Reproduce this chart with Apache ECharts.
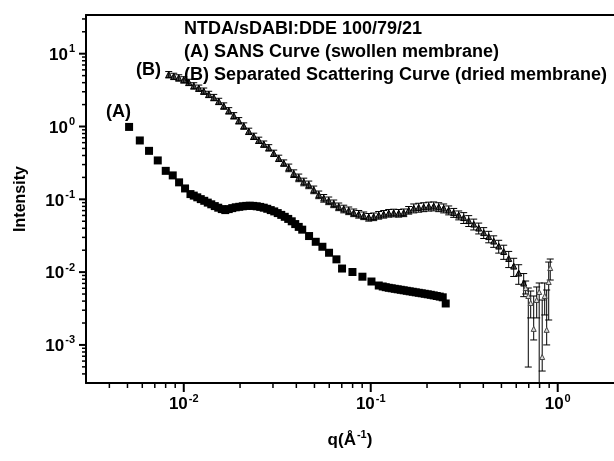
<!DOCTYPE html>
<html><head><meta charset="utf-8">
<script src="https://cdn.jsdelivr.net/npm/echarts@6/dist/echarts.min.js"></script>
<style>html,body{margin:0;padding:0;background:#fff}#c{width:614px;height:461px}</style>
</head><body><div id="c"></div>
<script>
// Series (A): SANS curve (swollen membrane) — filled squares
const aQ = [0.0051,0.00582,0.00652,0.00726,0.00801,0.00873,0.00944,0.01016,0.01086,
  0.01131,0.01181,0.01233,0.01287,0.01344,0.01403,0.01465,0.01529,0.01597,0.01667,0.01740,0.01817,0.01897,0.01981,0.02068,0.02159,0.02254,0.02353,0.02457,0.02565,0.02678,0.02796,0.02919,0.03047,0.03181,0.03322,0.03468,0.03620,0.03780,0.03946,0.04120,0.04301,
  0.04679,0.05080,0.05514,0.05984,0.06555,
  0.07023,0.07983,0.09027,0.1009,0.1104,
  0.1159,0.1203,0.1248,0.1295,0.1344,0.1394,0.1447,0.1501,0.1558,0.1616,0.1677,0.1741,0.1806,0.1874,0.1944,0.2018,0.2094,0.2172,0.2254,0.2339,0.2427,0.2518];
const aI = [0.987,0.643,0.463,0.342,0.246,0.213,0.171,0.141,0.118,
  0.1124,0.1065,0.1006,0.0954,0.0901,0.0854,0.0807,0.0767,0.0734,0.0711,0.0734,0.0757,0.0777,0.0789,0.0802,0.0812,0.0817,0.0812,0.0802,0.0787,0.0767,0.0741,0.0711,0.0682,0.0647,0.0611,0.0575,0.0538,0.0499,0.0457,0.0418,0.0383,
  0.0313,0.0261,0.0223,0.01845,0.01498,
  0.0112,0.01003,0.00865,0.00743,0.00655,
  0.00635,0.00621,0.00609,0.00600,0.00590,0.00581,0.00572,0.00563,0.00554,0.00545,0.00537,0.00528,0.00520,0.00512,0.00504,0.00496,0.00488,0.00479,0.00470,0.00461,0.00451,0.00371];

// Series (B): separated scattering curve (dried membrane) — triangles with error bars
const bQ = [0.00831,0.00884,0.00940,0.01000,
  0.01064,0.01131,0.01203,0.01279,0.01360,0.01447,0.01538,0.01636,0.01740,0.01851,
  0.01968,0.02093,0.02226,0.02367,0.02518,0.02678,0.02848,0.03028,0.03221,0.03425,
  0.03643,0.03874,0.04120,0.04382,0.04660,0.04956,0.05271,0.05605,0.05961,0.06340,
  0.06742,0.07171,0.07626,0.08110,0.08625,0.09173,0.09755,0.1037,0.1103,0.1173,
  0.1248,0.1327,0.1411,0.1501,0.1596,0.1698,0.1805,0.1920,0.2042,0.2172,
  0.2310,0.2456,0.2612,0.2778,0.2955,0.3142,0.3342,0.3554,0.3780,0.4020,
  0.4275,0.4547,0.4835,0.5142,0.5469,0.5816,0.6185,0.6578];
const bI = [5.17,4.90,4.67,4.39,
  4.05,3.63,3.37,3.07,2.77,2.51,2.22,1.92,1.65,1.41,
  1.205,1.02,0.862,0.736,0.649,0.575,0.512,0.430,0.367,0.316,
  0.272,0.2266,0.1984,0.1743,0.159,0.1358,0.116,0.1039,0.0960,0.0873,
  0.0794,0.0741,0.0700,0.0657,0.0627,0.0598,0.0570,0.0579,0.0607,0.0627,
  0.0647,0.0653,0.0647,0.0657,0.0711,0.0757,0.0774,0.0787,0.0802,0.0807,
  0.0787,0.0757,0.0711,0.0657,0.0607,0.0561,0.0510,0.0457,0.0403,0.0349,
  0.0308,0.0267,0.0228,0.0192,0.0154,0.0121,0.00972,0.00708];
// relative uncertainty of each (B) point
const bErr = [0.10,0.10,0.10,0.10,
  0.10,0.10,0.10,0.10,0.10,0.10,0.10,0.10,0.10,0.10,
  0.10,0.10,0.10,0.10,0.10,0.10,0.10,0.10,0.10,0.10,
  0.12,0.12,0.12,0.12,0.12,0.12,0.12,0.12,0.12,0.12,
  0.12,0.12,0.12,0.12,0.12,0.12,0.12,0.12,0.12,0.12,
  0.12,0.12,0.12,0.12,0.12,0.14,0.14,0.14,0.14,0.14,
  0.14,0.14,0.14,0.14,0.14,0.17,0.17,0.17,0.17,0.17,
  0.18,0.18,0.20,0.22,0.25,0.28,0.30,0.35];
// noisy high-q tail of (B) with its own error limits
const tailQ  = [0.674,0.696,0.717,0.744,0.772,0.796,0.826,0.852,0.873,0.895,0.912];
const tailI  = [0.00605,0.00470,0.00377,0.00166,0.00414,0.00533,0.000682,0.00470,0.00161,0.00731,0.01138];
const tailHi = [0.00755,0.00605,0.00550,0.00470,0.00625,0.00709,0.00414,0.00709,0.00568,0.01375,0.01513];
const tailLo = [0.00501,0.000497,0.00235,0.00117,0.00235,0.0001,0.000438,0.00258,0.00100,0.00220,0.00779];

// axes
const xMin = 0.003, xMax = 2;
const yMin = 0.0003, yMax = 34;
const xMajor = [0.01, 0.1, 1];
const yMajor = [0.001, 0.01, 0.1, 1, 10];
const yName = 'Intensity';
const noteLines = ['NTDA/sDABI:DDE 100/79/21', '(A) SANS Curve (swollen membrane)', '(B) Separated Scattering Curve (dried membrane)'];
const tagA = '(A)', tagB = '(B)';

function minorTicks(lo, hi) {
  const out = [];
  for (let d = -5; d <= 2; d++) {
    for (let m = 2; m <= 9; m++) {
      const v = Number((m * Math.pow(10, d)).toPrecision(6));
      if (v > lo * 1.0001 && v < hi * 0.9999) out.push(v);
    }
  }
  return out;
}

const FONT = '"Liberation Sans", Arial, sans-serif';
const rich = {
  b: { fontSize: 17, fontWeight: 'bold', fontFamily: FONT, color: '#000', lineHeight: 20, verticalAlign: 'bottom' },
  s: { fontSize: 11, fontWeight: 'bold', fontFamily: FONT, color: '#000', lineHeight: 20, verticalAlign: 'top', padding: [0, 0, 0, 1] }
};
const powLabel = v => '{b|10}{s|' + Math.round(Math.log10(v)) + '}';

const bData = bQ.map((q, i) => [q, bI[i] * (1 + bErr[i]), bI[i] * (1 - bErr[i])]);
const tData = tailQ.map((q, i) => [q, tailHi[i], tailLo[i]]);

function errBar(params, api) {
  const x = api.value(0);
  const hi = api.coord([x, api.value(1)]);
  const lo = api.coord([x, api.value(2)]);
  const w = 3.5;
  const st = { stroke: '#000', lineWidth: 1 };
  return {
    type: 'group',
    children: [
      { type: 'line', shape: { x1: hi[0], y1: hi[1], x2: lo[0], y2: lo[1] }, style: st },
      { type: 'line', shape: { x1: hi[0] - w, y1: hi[1], x2: hi[0] + w, y2: hi[1] }, style: st },
      { type: 'line', shape: { x1: lo[0] - w, y1: lo[1], x2: lo[0] + w, y2: lo[1] }, style: st }
    ]
  };
}
// axis ticks placed through the axis scales (value, length, width)
function xTick(params, api) {
  const p = api.coord([api.value(0), yMin]);
  const len = api.value(2), w = api.value(3);
  return { type: 'line', shape: { x1: p[0], y1: p[1], x2: p[0], y2: p[1] + len }, style: { stroke: '#000', lineWidth: w } };
}
function yTick(params, api) {
  const p = api.coord([xMin, api.value(1)]);
  const len = api.value(2), w = api.value(3);
  return { type: 'line', shape: { x1: p[0], y1: p[1], x2: p[0] - len, y2: p[1] }, style: { stroke: '#000', lineWidth: w } };
}
const xTickData = minorTicks(xMin, xMax).map(v => [v, yMin, 5, 1.5]).concat(xMajor.map(v => [v, yMin, 9, 2]));
const yTickData = minorTicks(yMin, yMax).map(v => [xMin, v, 4, 1.5]).concat(yMajor.map(v => [xMin, v, 7, 2]));

const axisLine = { show: true, lineStyle: { color: '#000', width: 2 } };
const chart = echarts.init(document.getElementById('c'), null, { renderer: 'canvas' });
chart.setOption({
  animation: false,
  backgroundColor: '#fff',
  grid: { left: 86, right: 0, top: 15, bottom: 78, containLabel: false },
  xAxis: [
    { type: 'log', logBase: 10, min: xMin, max: xMax, position: 'bottom',
      axisLine: axisLine,
      axisTick: { show: false },
      axisLabel: { customValues: xMajor, formatter: powLabel, rich: rich, margin: 10 },
      splitLine: { show: false },
      name: '{b|q(Å}{s|-1}{b|)}', nameLocation: 'middle', nameGap: 46,
      nameTextStyle: { rich: rich } },
    { type: 'log', logBase: 10, min: xMin, max: xMax, position: 'top',
      axisLine: axisLine, axisTick: { show: false }, axisLabel: { show: false }, splitLine: { show: false } }
  ],
  yAxis: [
    { type: 'log', logBase: 10, min: yMin, max: yMax, position: 'left',
      axisLine: axisLine,
      axisTick: { show: false },
      axisLabel: { customValues: yMajor, formatter: powLabel, rich: rich, margin: 11 },
      splitLine: { show: false },
      name: yName, nameLocation: 'middle', nameGap: 57,
      nameTextStyle: { fontSize: 16, fontWeight: 'bold', fontFamily: FONT, color: '#000' } }
  ],
  series: [
    { type: 'custom', renderItem: xTick, clip: false, silent: true, z: 1,
      encode: { x: 0, y: 1 }, data: xTickData },
    { type: 'custom', renderItem: yTick, clip: false, silent: true, z: 1,
      encode: { x: 0, y: 1 }, data: yTickData },
    { type: 'scatter', symbol: 'triangle', symbolSize: 6,
      itemStyle: { color: '#555', borderColor: '#000', borderWidth: 1, opacity: 1 },
      data: bQ.map((q, i) => [q, bI[i]]), z: 2 },
    { type: 'custom', renderItem: errBar, clip: true,
      encode: { x: 0, y: [1, 2] }, data: bData, z: 3 },
    { type: 'scatter', symbol: 'triangle', symbolSize: 5,
      itemStyle: { color: '#ddd', borderColor: '#444', borderWidth: 1, opacity: 1 },
      data: tailQ.map((q, i) => [q, tailI[i]]), z: 4 },
    { type: 'custom', renderItem: errBar, clip: true,
      encode: { x: 0, y: [1, 2] }, data: tData, z: 3 },
    { type: 'scatter', symbol: 'rect', symbolSize: 8,
      itemStyle: { color: '#000', opacity: 1 },
      data: aQ.map((q, i) => [q, aI[i]]), z: 5 }
  ],
  graphic: [
    { type: 'text', left: 184, top: 20, style: { text: noteLines[0], font: 'bold 18px ' + FONT, fill: '#000' }, z: 10 },
    { type: 'text', left: 184, top: 43, style: { text: noteLines[1], font: 'bold 18px ' + FONT, fill: '#000' }, z: 10 },
    { type: 'text', left: 184, top: 66, style: { text: noteLines[2], font: 'bold 18px ' + FONT, fill: '#000' }, z: 10 },
    { type: 'text', left: 136, top: 61, style: { text: tagB, font: 'bold 18px ' + FONT, fill: '#000' }, z: 10 },
    { type: 'text', left: 106, top: 103, style: { text: tagA, font: 'bold 18px ' + FONT, fill: '#000' }, z: 10 }
  ]
});
</script>
</body></html>
